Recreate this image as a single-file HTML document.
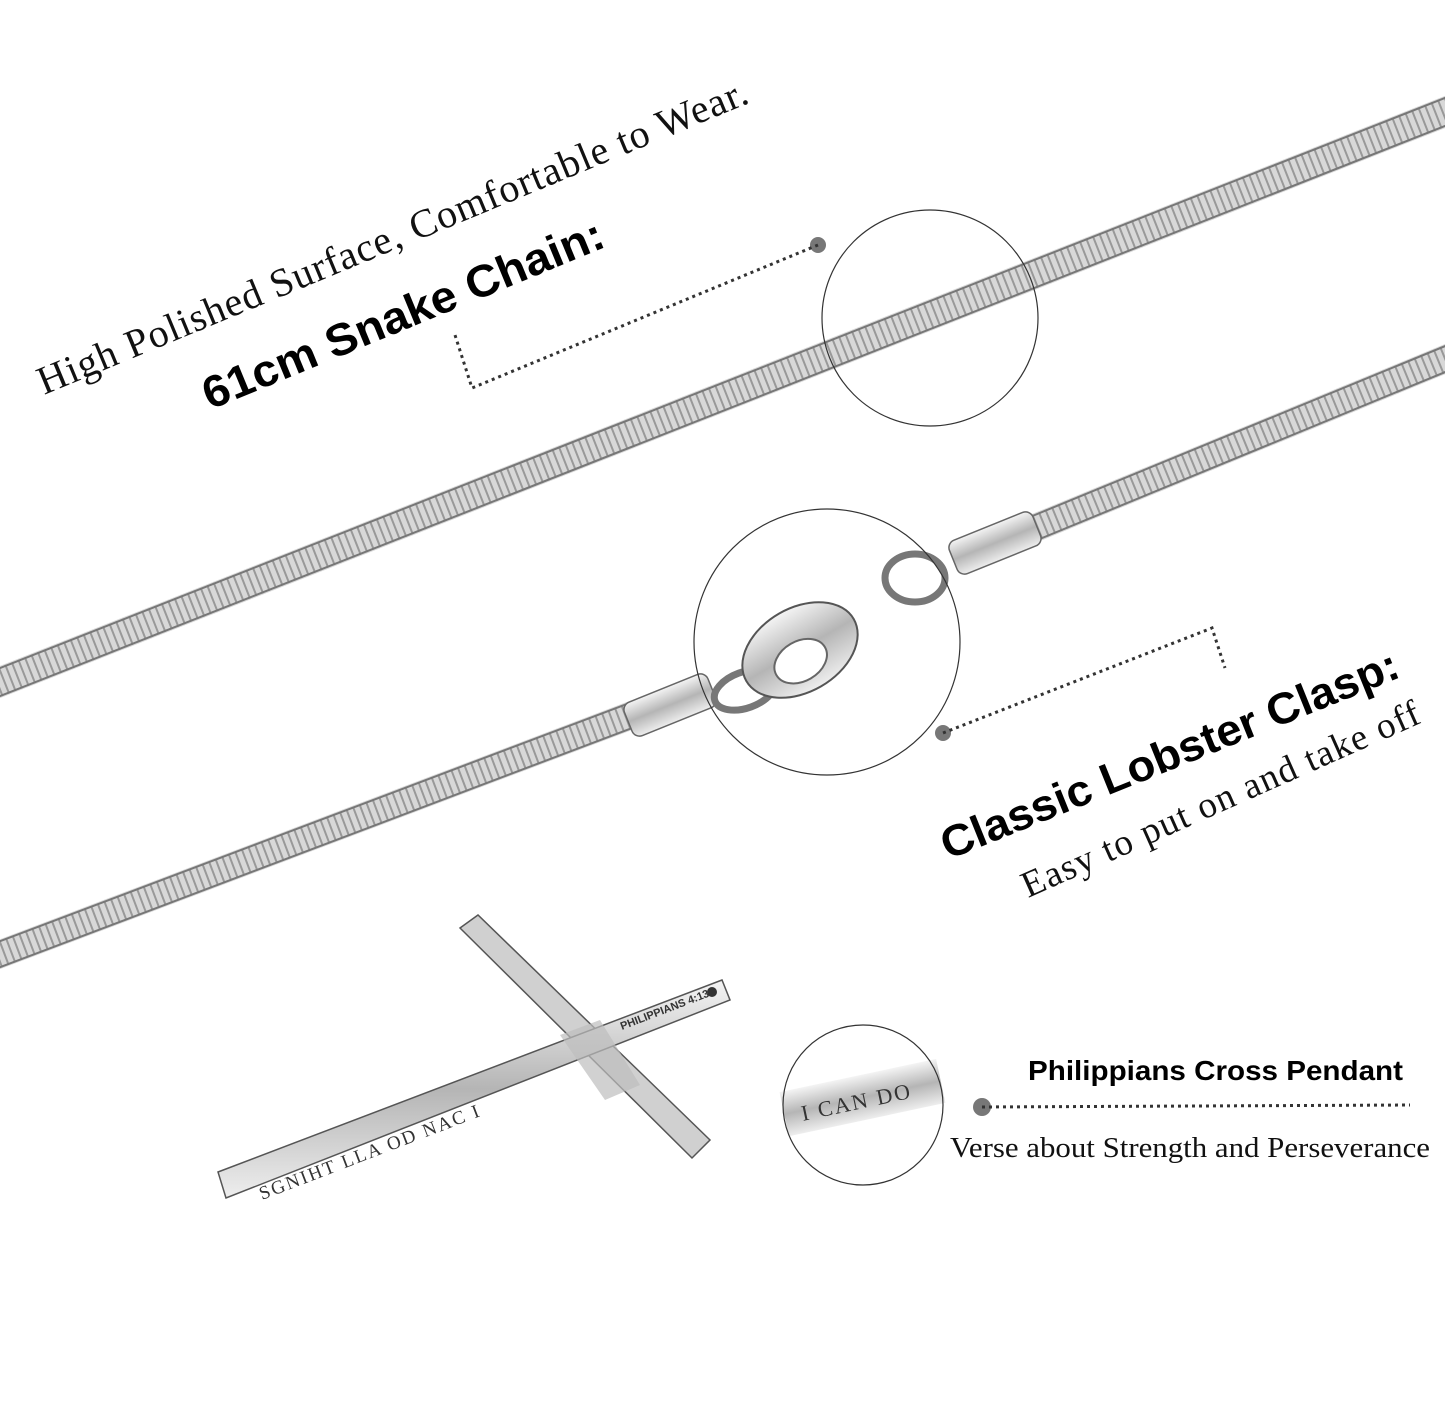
<!DOCTYPE html>
<html><head><meta charset="utf-8"><style>
html,body{margin:0;padding:0;background:#fff;}
svg{display:block}
</style></head><body>
<svg width="1445" height="1414" viewBox="0 0 1445 1414" xmlns="http://www.w3.org/2000/svg">
<defs>
<linearGradient id="metal" x1="0" y1="0" x2="0" y2="1">
<stop offset="0" stop-color="#f4f4f4"/><stop offset="0.5" stop-color="#b5b5b5"/><stop offset="1" stop-color="#eeeeee"/>
</linearGradient>
</defs>
<g>
<line x1="-10" y1="686" x2="1455" y2="108" stroke="#d8d8d8" stroke-width="30"/>
<line x1="-10" y1="686" x2="1455" y2="108" stroke="#999" stroke-width="28" stroke-dasharray="2 5"/>
<line x1="-10" y1="672" x2="1455" y2="94" stroke="#777" stroke-width="2"/>
<line x1="-10" y1="700" x2="1455" y2="122" stroke="#777" stroke-width="2"/>
</g>
<g>
<line x1="-10" y1="958" x2="640" y2="712" stroke="#d8d8d8" stroke-width="28"/>
<line x1="-10" y1="958" x2="640" y2="712" stroke="#999" stroke-width="26" stroke-dasharray="2 5"/>
<line x1="-10" y1="945" x2="640" y2="699" stroke="#777" stroke-width="2"/>
<line x1="-10" y1="971" x2="640" y2="725" stroke="#777" stroke-width="2"/>
</g>
<g>
<line x1="1030" y1="530" x2="1455" y2="355" stroke="#d8d8d8" stroke-width="28"/>
<line x1="1030" y1="530" x2="1455" y2="355" stroke="#999" stroke-width="26" stroke-dasharray="2 5"/>
<line x1="1030" y1="517" x2="1455" y2="342" stroke="#777" stroke-width="2"/>
<line x1="1030" y1="543" x2="1455" y2="368" stroke="#777" stroke-width="2"/>
</g>
<g transform="translate(670,705) rotate(-22)"><rect x="-45" y="-18" width="90" height="36" rx="8" fill="url(#metal)" stroke="#666" stroke-width="1.5"/></g>
<g transform="translate(995,543) rotate(-22)"><rect x="-45" y="-18" width="90" height="36" rx="8" fill="url(#metal)" stroke="#666" stroke-width="1.5"/></g>
<ellipse cx="745" cy="690" rx="32" ry="18" transform="rotate(-20 745 690)" fill="none" stroke="#777" stroke-width="7"/>
<ellipse cx="915" cy="578" rx="30" ry="24" fill="none" stroke="#777" stroke-width="7"/>
<g transform="rotate(-30 800 650)">
<ellipse cx="800" cy="650" rx="62" ry="42" fill="url(#metal)" stroke="#555" stroke-width="2"/>
<ellipse cx="795" cy="660" rx="28" ry="20" fill="#fff" stroke="#666" stroke-width="2"/>
</g>
<circle cx="930" cy="318" r="108" fill="none" stroke="#333" stroke-width="1.2"/>
<circle cx="827" cy="642" r="133" fill="none" stroke="#333" stroke-width="1.2"/>
<g transform="rotate(-12 863 1100)">
<rect x="783" y="1075" width="160" height="45" fill="url(#metal)"/>
<text x="800" y="1108" font-family="Liberation Serif,serif" font-size="22" fill="#333" letter-spacing="2">I CAN DO</text>
</g>
<circle cx="863" cy="1105" r="80" fill="none" stroke="#333" stroke-width="1.2"/>
<g>
<polygon points="460,928 478,915 710,1140 692,1158" fill="#d0d0d0" stroke="#555" stroke-width="1.5"/>
<polygon points="218,1172 722,980 730,1000 226,1198" fill="url(#metal)" stroke="#555" stroke-width="1.5"/>
<circle cx="712" cy="992" r="5" fill="#333"/>
<polygon points="560,1035 600,1020 640,1085 605,1100" fill="#bdbdbd" opacity="0.7"/>
<text transform="translate(262,1200) rotate(-21)" font-family="Liberation Serif,serif" font-size="19" fill="#333" letter-spacing="2">SGNIHT LLA OD NAC I</text>
<text transform="translate(622,1030) rotate(-21)" font-family="Liberation Sans,sans-serif" font-size="11" fill="#333" font-weight="bold">PHILIPPIANS 4:13</text>
</g>
<circle cx="818" cy="245" r="8" fill="#777"/>
<polyline points="818,245 472,388 455,335" fill="none" stroke="#333" stroke-width="3" stroke-dasharray="3 4"/>
<circle cx="943" cy="733" r="8" fill="#777"/>
<polyline points="943,733 1212,628 1225,668" fill="none" stroke="#333" stroke-width="3" stroke-dasharray="3 4"/>
<circle cx="982" cy="1107" r="9" fill="#777"/>
<line x1="982" y1="1107" x2="1410" y2="1105" stroke="#333" stroke-width="3" stroke-dasharray="3 4"/>
<text transform="translate(44,395) rotate(-22.5)" font-family="Liberation Serif,serif" font-size="40" fill="#111" textLength="765" lengthAdjust="spacing">High Polished Surface, Comfortable to Wear.</text>
<text transform="translate(210,410) rotate(-22.4)" font-family="Liberation Sans,sans-serif" font-weight="bold" font-size="45" fill="#000" textLength="430" lengthAdjust="spacingAndGlyphs">61cm Snake Chain:</text>
<text transform="translate(948,860) rotate(-22)" font-family="Liberation Sans,sans-serif" font-weight="bold" font-size="44" fill="#000" textLength="490" lengthAdjust="spacingAndGlyphs">Classic Lobster Clasp:</text>
<text transform="translate(1028,898) rotate(-24)" font-family="Liberation Serif,serif" font-size="37" fill="#111" textLength="432" lengthAdjust="spacing">Easy to put on and take off</text>
<text x="1028" y="1080" font-family="Liberation Sans,sans-serif" font-weight="bold" font-size="28" fill="#000" textLength="375" lengthAdjust="spacingAndGlyphs">Philippians Cross Pendant</text>
<text x="950" y="1157" font-family="Liberation Serif,serif" font-size="28" fill="#111" textLength="480" lengthAdjust="spacingAndGlyphs">Verse about Strength and Perseverance</text>
</svg>
</body></html>
